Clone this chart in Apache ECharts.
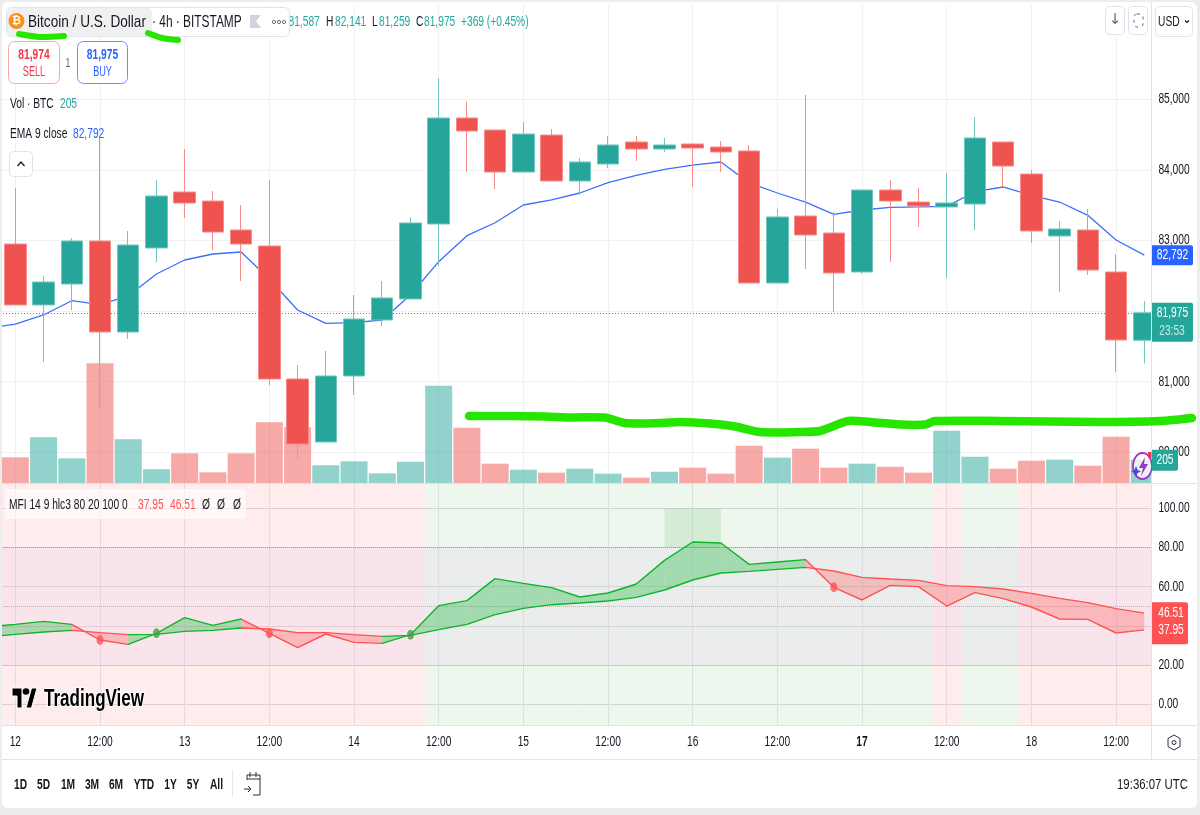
<!DOCTYPE html>
<html>
<head>
<meta charset="utf-8">
<title>BTC/USD 4h</title>
<style>
  html, body { margin: 0; padding: 0; background: #ECEDEF; }
  #panel { position: absolute; left: 2px; top: 2px; width: 1195px; height: 806px; background: #fff; border-radius: 6px; }
  #chart { position: absolute; left: 0; top: 0; width: 1200px; height: 815px; }
</style>
<script src="https://cdn.jsdelivr.net/npm/echarts@6/dist/echarts.min.js"></script>
</head>
<body>
<div id="panel"></div>
<div id="chart"></div>
<script>
// 4h bars, BTC/USD. The first slot is the bar just off the left edge, known only through its indicators.
const opens  = ['-',82950,82087,82384,82993,81704,82894,83687,83559,83149,82922,81038,80146,81081,81874,82172,83234,84735,84565,83970,84494,83843,84084,84395,84296,84367,84324,84268,82398,83347,83106,82554,83715,83545,83475,83517,84395,83942,83064,83149,82554,81587];
const closes = ['-',82087,82412,82993,81704,82936,83630,83531,83120,82950,81038,80118,81081,81888,82186,83248,84735,84551,83970,84508,83843,84112,84353,84296,84353,84310,84254,82398,83333,83078,82540,83715,83559,83489,83531,84452,84055,83135,83163,82582,81591,81975];
const lows   = ['-',82087,81279,82016,80613,81605,82696,83319,82866,82426,80953,79919,80146,80812,81789,82172,82639,83970,83730,83970,83843,83645,84027,84126,84254,83758,83970,82398,82398,82596,81987,82526,82696,83191,82469,83149,83758,82965,82271,82511,81137,81259];
const highs  = ['-',83744,82497,83035,84466,83135,83857,84296,83701,83503,83857,81237,81435,82228,82426,83333,85302,84962,84565,84678,84579,84169,84480,84480,84452,84381,84409,84353,83446,85061,83404,83715,83857,83744,83956,84749,84395,83999,83276,83446,82809,82141];
const volumes = [null,226,402,217,1053,385,121,261,94,261,534,490,156,191,85,187,856,487,170,117,91,126,82,47,99,135,82,328,223,302,135,170,143,91,460,231,126,196,205,152,407,205];
const emaValues = [81756,81817,81945,82147,82091,82214,82526,82724,82809,82837,82455,82016,81827,81836,81874,82228,82700,83068,83252,83503,83574,83673,83819,83924,84009,84069,84112,83815,83673,83545,83371,83432,83470,83475,83484,83691,83758,83640,83545,83357,83007,82792];
const mfiValues = [39.44,40.80,42.33,40.80,32.81,30.60,36.21,44.20,40.29,43.52,36.21,28.90,35.87,31.62,31.11,35.53,50.32,52.88,64.10,61.72,59.51,54.75,56.79,61.38,73.45,82.81,82.30,71.41,72.60,73.79,59.68,53.22,60.70,60.02,50.15,56.96,53.90,49.64,43.52,43.35,36.38,37.95];
const signalValues = [34.34,35.70,36.89,37.74,36.55,35.53,35.70,37.23,37.74,38.93,38.42,36.55,36.55,35.53,34.68,35.19,38.08,40.80,45.73,48.96,50.83,51.68,52.71,54.58,58.32,63.42,66.99,67.84,68.86,69.88,68.01,64.78,63.93,63.25,60.53,60.02,58.83,56.62,54.07,51.85,48.79,46.51];
const barSlots = Array.from({ length: opens.length }, (_, i) => 'bar' + i);
const timeLabels = ['12','12:00','13','12:00','14','12:00','15','12:00','16','12:00','17','12:00','18','12:00'];
const priceTicks = [80000,81000,82000,83000,84000,85000];
const mfiTicks = [0,20,40,60,80,100];
const guideLevels = [80,50,20];
const guideColors = ['#7FA8A4','#B4B4B7','#E6B88A'];
const buyMarks = [6,15];
const sellMarks = [4,10,30];
const zoneStarts = [0,16,34,35,37];
const zoneEnds = [15,33,34,36,41];
const zoneBuy = [false,true,false,true,false];

const SANS = '"Liberation Sans",sans-serif';
const SQUEEZE = 0.73;
const INK = '#131722', TEAL = '#26A69A', RED = '#EF5350', ALERT = '#FF5252', BLUE = '#2962FF', EDGE = '#E0E3EB';
const LINE_UP = '#0DB52B';
const PRICE_MIN = 79565, PRICE_MAX = 86336, OSC_MIN = -10.56, OSC_MAX = 112.4;

const isUp = i => closes[i] >= opens[i];
const segmentBuy = i => mfiValues[i] >= signalValues[i];

const segmentPieces = [];
for (let i = 1; i < mfiValues.length; i++) {
  segmentPieces.push({ gt: i - 1, lte: i, color: segmentBuy(i) ? LINE_UP : ALERT });
}

const gridLine = { show: true, lineStyle: { color: '#F0F1F3', width: 1 } };
const stripLine = { show: true, lineStyle: { color: '#DCDDE0', width: 1 } };
const stripColumn = { show: true, lineStyle: { color: '#E8E9EB', width: 1 } };

function labelOnly(index) { return (index - 1) % 3 === 0; }

const priceLabel = v => v.toLocaleString('en-US');
const oscLabel = v => v.toFixed(2);

// Scales come in pairs: the labelled axis sits above the edge mask, its twin keeps the grid lines under the marks.
function labelledAxis(gridIndex, min, max, ticks, formatter) {
  return { type: 'value', gridIndex, position: 'right', min, max, z: 6,
    axisLine: { show: false }, axisTick: { show: false, customValues: ticks }, splitLine: { show: false },
    axisLabel: { margin: 0, customValues: ticks, color: INK, fontFamily: SANS, fontSize: 14, formatter } };
}
function gridAxis(gridIndex, min, max, ticks, splitLine) {
  return { type: 'value', gridIndex, position: 'right', min, max, z: 0,
    axisLine: { show: false }, axisTick: { show: false, customValues: ticks }, axisLabel: { show: false }, splitLine };
}

const option = {
  animation: false,
  backgroundColor: 'transparent',
  grid: [
    { left: -27, width: 1185.4, top: 5, height: 478, outerBoundsMode: 'none' },
    { left: -27, width: 1185.4, top: 484, height: 241, outerBoundsMode: 'none' }
  ],
  xAxis: [
    { type: 'category', gridIndex: 0, data: barSlots, axisLine: { show: false }, axisTick: { show: false },
      axisLabel: { show: false },
      splitLine: Object.assign({ interval: labelOnly, alignWithLabel: true }, gridLine) },
    { type: 'category', gridIndex: 1, data: barSlots, axisLine: { show: false }, axisTick: { show: false },
      axisLabel: { interval: labelOnly, margin: 10, color: INK, fontFamily: SANS, fontSize: 14, hideOverlap: false,
        formatter: (value, index) => {
          const t = timeLabels[(index - 1) / 3];
          return t === '17' ? '{strong|17}' : (t || '');
        },
        rich: { strong: { fontWeight: 'bold', fontFamily: SANS, fontSize: 14, color: INK } } },
      splitLine: Object.assign({ interval: labelOnly, alignWithLabel: true }, stripColumn) }
  ],
  yAxis: [
    labelledAxis(0, PRICE_MIN, PRICE_MAX, priceTicks, priceLabel),
    { type: 'value', gridIndex: 0, min: 0, max: 4206, show: false, splitLine: { show: false } },
    labelledAxis(1, OSC_MIN, OSC_MAX, mfiTicks, oscLabel),
    gridAxis(0, PRICE_MIN, PRICE_MAX, priceTicks, gridLine),
    gridAxis(1, OSC_MIN, OSC_MAX, mfiTicks, stripLine)
  ],
  visualMap: [{ show: false, type: 'piecewise', seriesIndex: [3, 4], dimension: 0, pieces: segmentPieces }],
  series: [
    { // volume columns along the foot of the price pane
      type: 'bar', name: 'Vol', xAxisIndex: 0, yAxisIndex: 1, z: 2, barWidth: 27, data: volumes,
      itemStyle: { color: p => isUp(p.dataIndex) ? 'rgba(38,166,154,0.5)' : 'rgba(239,83,80,0.5)' }
    },
    { // EMA 9 runs behind the candles
      type: 'line', name: 'EMA 9', xAxisIndex: 0, yAxisIndex: 0, z: 3, data: emaValues,
      showSymbol: false, symbol: 'none', lineStyle: { color: '#3D6FFF', width: 1.3 }
    },
    { type: 'candlestick', name: 'BTC/USD', xAxisIndex: 0, yAxisIndex: 0, z: 4, barWidth: 22,
      data: opens.map((o, i) => [o, closes[i], lows[i], highs[i]]),
      itemStyle: { color: TEAL, color0: RED, borderColor: '#6FC6BE', borderColor0: '#F58C8A', borderWidth: 1 },
      markLine: { silent: true, symbol: 'none', label: { show: false },
        lineStyle: { color: '#3E9C93', type: [1, 2], width: 1 },
        data: [{ yAxis: closes[closes.length - 1] }] }
    },
    { type: 'line', name: 'MFI', xAxisIndex: 1, yAxisIndex: 2, z: 4, data: mfiValues,
      showSymbol: false, symbol: 'none', lineStyle: { width: 1.4 },
      markArea: { silent: true, itemStyle: { color: 'rgba(76,175,80,0.15)' },
        data: [[{ xAxis: 24, yAxis: 100 }, { xAxis: 26, yAxis: 80 }]] } },
    { type: 'line', name: 'Signal', xAxisIndex: 1, yAxisIndex: 2, z: 4, data: signalValues,
      showSymbol: false, symbol: 'none', lineStyle: { width: 1.4 } },
    { // regime backdrop: full height tint plus the 20-80 channel
      type: 'custom', name: 'Regime', xAxisIndex: 1, yAxisIndex: 2, z: 1, silent: true,
      data: zoneStarts.map((s, i) => [s, zoneEnds[i]]),
      encode: { x: [0, 1] },
      renderItem: (params, api) => {
        const band = api.size([1, 0])[0];
        const x0 = api.coord([api.value(0), 0])[0] - band / 2;
        const x1 = api.coord([api.value(1), 0])[0] + band / 2;
        const top = api.coord([0, 80])[1], bottom = api.coord([0, 20])[1];
        const buy = zoneBuy[params.dataIndex];
        return { type: 'group', children: [
          { type: 'rect', shape: { x: x0, y: params.coordSys.y, width: x1 - x0, height: params.coordSys.height },
            style: { fill: buy ? 'rgba(76,175,80,0.1)' : 'rgba(255,82,82,0.1)' } },
          { type: 'rect', shape: { x: x0, y: top, width: x1 - x0, height: bottom - top },
            style: { fill: buy ? 'rgba(229,203,233,0.25)' : 'rgba(231,198,226,0.25)' } }
        ] };
      }
    },
    { // oscillator guide levels, kept on whole pixel rows so the dots stay crisp
      type: 'custom', name: 'Guides', xAxisIndex: 1, yAxisIndex: 2, z: 2, silent: true,
      data: guideLevels.map((level, i) => [i, level]),
      encode: { x: 0, y: 1 },
      renderItem: (params, api) => {
        const y = Math.floor(api.coord([0, api.value(1)])[1]) + 0.5;
        return { type: 'line',
          shape: { x1: params.coordSys.x, y1: y, x2: params.coordSys.x + params.coordSys.width, y2: y },
          style: { stroke: guideColors[params.dataIndex], lineWidth: 1, lineDash: [1, 1] } };
      }
    },
    { // fill between MFI and its signal, one quad per bar
      type: 'custom', name: 'MFI band', xAxisIndex: 1, yAxisIndex: 2, z: 3, silent: true,
      data: mfiValues.slice(1).map((_, i) => [i, i + 1]),
      encode: { x: [0, 1] },
      renderItem: (params, api) => {
        const a = api.value(0), b = api.value(1);
        return { type: 'polygon', shape: { points: [
            api.coord([a, mfiValues[a]]), api.coord([b, mfiValues[b]]),
            api.coord([b, signalValues[b]]), api.coord([a, signalValues[a]]) ] },
          style: { fill: segmentBuy(b) ? 'rgba(0,180,40,0.3)' : 'rgba(255,82,82,0.3)' } };
      }
    },
    { type: 'scatter', name: 'Cross up', xAxisIndex: 1, yAxisIndex: 2, z: 5, symbolSize: [7, 10],
      data: buyMarks.map(i => [i, mfiValues[i]]), itemStyle: { color: '#43A047' } },
    { type: 'scatter', name: 'Cross down', xAxisIndex: 1, yAxisIndex: 2, z: 5, symbolSize: [7, 10],
      data: sellMarks.map(i => [i, mfiValues[i]]), itemStyle: { color: ALERT } }
  ]
};

const chart = echarts.init(document.getElementById('chart'), null, { renderer: 'canvas' });
chart.setOption(option);

function text(x, y, str, fill, size, extra) {
  extra = extra || {};
  return { type: 'text', x, y, z: extra.z || 8, scaleX: extra.squeeze || SQUEEZE,
    style: { text: str, fill: fill || INK, font: extra.font || ((size || 14) + 'px ' + SANS),
      textAlign: extra.align || 'left', textVerticalAlign: 'middle',
      stroke: extra.stroke, lineWidth: extra.lineWidth } };
}
function box(x, y, w, h, fill, stroke, r, z) {
  return { type: 'rect', z: z || 7, shape: { x, y, width: w, height: h, r: r || 0 },
    style: { fill: fill || 'none', stroke: stroke || 'none', lineWidth: 1 } };
}
function line(x1, y1, x2, y2, stroke, z) {
  return { type: 'line', z: z || 5, shape: { x1, y1, x2, y2 }, style: { stroke: stroke || EDGE, lineWidth: 1 } };
}
function stroke(points, color, width, z) {
  return { type: 'polyline', z: z || 8, shape: { points }, style: { stroke: color, lineWidth: width || 1, fill: 'none' } };
}
function shape(points, fill, z, outline) {
  return { type: 'polygon', z: z || 8, shape: { points }, style: { fill, stroke: outline, lineWidth: outline ? 1 : 0 } };
}
function ink(points, width) {
  return { type: 'polyline', z: 9, shape: { points, smooth: 0.25 },
    style: { stroke: '#26E600', lineWidth: width, lineCap: 'round', lineJoin: 'round', fill: 'none' } };
}

const priceY = v => chart.convertToPixel({ yAxisIndex: 0 }, v);
const oscY = v => chart.convertToPixel({ yAxisIndex: 2 }, v);
const lastClose = closes[closes.length - 1];
const lastEma = emaValues[emaValues.length - 1];
const lastMfi = mfiValues[mfiValues.length - 1];
const lastSignal = signalValues[signalValues.length - 1];
const lastVol = volumes[volumes.length - 1];
const volY = chart.convertToPixel({ yAxisIndex: 1 }, lastVol);
const fmt = v => v.toLocaleString('en-US');
const closeY = priceY(lastClose), emaY = priceY(lastEma);
const mfiTop = oscY(lastSignal), mfiBottom = oscY(lastMfi);
const centred = { align: 'center', z: 9 };
const hollowIcon = { fill: 'none', stroke: '#6A6D78', lineWidth: 1 };

const chrome = [
  // edges of the panes
  { type: 'rect', z: 5, shape: { x: 0, y: 0, width: 2, height: 815 }, style: { fill: '#ECEDEF' } },
  { type: 'rect', z: 5, shape: { x: 1152, y: 2, width: 8, height: 757 }, style: { fill: '#fff' } },
  line(2, 483.5, 1152, 483.5), line(2, 725.5, 1197, 725.5), line(2, 759.5, 1197, 759.5),
  line(1151.5, 2, 1151.5, 759), line(1151.5, 483.5, 1197, 483.5),

  // symbol header; the open value tucks under the pill
  text(288.5, 22, '81,587', TEAL, 14, { z: 6 }),
  box(6.5, 7.5, 283, 29, '#fff', EDGE, 5),
  box(7, 8, 145, 28, '#F0F0F0', null, 5),
  { type: 'circle', z: 8, shape: { cx: 16.5, cy: 21, r: 8 }, style: { fill: '#F7931A' } },
  text(16.5, 21, '₿', '#fff', 11, { squeeze: 1, align: 'center', font: 'bold 11px "DejaVu Sans",sans-serif' }),
  text(28, 22, 'Bitcoin / U.S. Dollar', INK, 17, { squeeze: 0.8 }),
  text(152, 22, '· 4h · BITSTAMP', INK, 17, { squeeze: 0.7 }),
  shape([[250, 15], [261, 15], [256, 21], [261, 28], [250, 28]], '#D1D4DC'),
  { type: 'circle', z: 8, shape: { cx: 274, cy: 22, r: 1.6 }, style: hollowIcon },
  { type: 'circle', z: 8, shape: { cx: 279, cy: 22, r: 1.6 }, style: hollowIcon },
  { type: 'circle', z: 8, shape: { cx: 284, cy: 22, r: 1.6 }, style: hollowIcon },
  text(326, 22, 'H', INK), text(335, 22, '82,141', TEAL),
  text(372, 22, 'L', INK), text(379, 22, '81,259', TEAL),
  text(416, 22, 'C', INK), text(424, 22, '81,975', TEAL),
  text(461, 22, '+369 (+0.45%)', TEAL),

  // order buttons
  box(8.5, 41.5, 51, 42, '#fff', '#F7A8AE', 6),
  text(34, 55, '81,974', '#F23645', 14, { align: 'center', font: 'bold 14px ' + SANS }),
  text(34, 72, 'SELL', '#F23645', 14, { align: 'center', squeeze: 0.65 }),
  text(68, 63, '1', '#6A6D78', 13, { align: 'center' }),
  box(77.5, 41.5, 50, 42, '#fff', '#6C8FF5', 6),
  text(102.5, 55, '81,975', BLUE, 14, { align: 'center', font: 'bold 14px ' + SANS }),
  text(102.5, 72, 'BUY', BLUE, 14, { align: 'center', squeeze: 0.65 }),

  // indicator legends
  text(10, 104, 'Vol · BTC', INK), text(60, 104, fmt(lastVol), TEAL),
  text(10, 134, 'EMA 9 close', INK), text(73, 134, fmt(lastEma), BLUE),
  box(9.5, 151.5, 23, 25, '#fff', EDGE, 4),
  stroke([[17.5, 166], [21, 162], [24.5, 166]], INK, 1.3),

  box(5, 489, 241, 30, 'rgba(255,255,255,0.6)', null, 2),
  text(9, 505, 'MFI 14 9 hlc3 80 20 100 0', INK),
  text(138, 505, lastMfi.toFixed(2), ALERT), text(170, 505, lastSignal.toFixed(2), ALERT),
  text(202, 505, 'Ø', INK), text(217, 505, 'Ø', INK), text(233, 505, 'Ø', INK),

  // watermark
  shape([[12, 688], [22, 688], [22, 708], [17, 708], [17, 696], [12, 696]], '#000', 8, '#fff'),
  shape([[26, 708], [31.5, 688], [37, 688], [31.5, 708]], '#000', 8, '#fff'),
  { type: 'circle', z: 8, shape: { cx: 26, cy: 691.5, r: 3.3 }, style: { fill: '#000' } },
  text(44, 699, 'TradingView', '#000', 24, { squeeze: 0.71, font: 'bold 24px ' + SANS, stroke: '#fff', lineWidth: 2 }),

  // corner controls
  box(1105.5, 6.5, 19, 28, '#fff', EDGE, 4),
  text(1115, 20, '↓', '#6A6D78', 15, { squeeze: 1, align: 'center', font: '15px "DejaVu Sans",sans-serif' }),
  box(1128.5, 6.5, 19, 28, '#fff', EDGE, 4),
  { type: 'rect', z: 8, shape: { x: 1134, y: 14, width: 9, height: 13, r: 3 }, style: { fill: 'none', stroke: '#6A6D78', lineWidth: 1, lineDash: [3, 4] } },
  box(1155.5, 6.5, 37, 30, '#fff', EDGE, 4),
  text(1158, 22, 'USD', INK),
  stroke([[1185, 20.5], [1187, 22.5], [1189, 20.5]], INK, 1.2),

  // last-value tags on the scales
  box(1152, emaY - 10, 41, 20, BLUE, null, [0, 2, 2, 0], 8),
  text(1172.5, emaY, fmt(lastEma), '#fff', 14, centred),
  box(1152, closeY - 10, 41, 39, TEAL, null, [0, 2, 2, 0], 8),
  text(1172.5, closeY, fmt(lastClose), '#fff', 14, centred),
  text(1172, closeY + 18, '23:53', '#C4E9E5', 14, centred),
  box(1152, volY - 10, 26, 21, TEAL, null, [0, 2, 2, 0], 8),
  text(1165, volY + 0.5, fmt(lastVol), '#fff', 14, centred),
  box(1152, mfiTop - 11, 36, 42, ALERT, null, [0, 2, 2, 0], 8),
  text(1171, mfiTop, lastSignal.toFixed(2), '#fff', 14, centred),
  text(1171, mfiBottom, lastMfi.toFixed(2), '#fff', 14, centred),

  // assistant badge on the last volume column
  { type: 'circle', z: 6, x: 1142.5, y: 466, scaleY: 1.37, shape: { cx: 0, cy: 0, r: 9.5 }, style: { fill: 'rgba(255,255,255,0.75)', stroke: '#A232C8', lineWidth: 1.6 } },
  shape([[1145, 457], [1139, 468], [1143, 468], [1141, 476], [1148, 464], [1144, 464]], '#A232C8', 7),
  shape([[1136, 466], [1137.5, 470], [1141, 471.5], [1137.5, 473], [1136, 477], [1134.5, 473], [1131, 471.5], [1134.5, 470]], '#5B3FD6', 7),
  { type: 'rect', z: 7, shape: { x: 1148, y: 452, width: 3.5, height: 6 }, style: { fill: '#F23645' } },

  // range bar and clock
  ...[['1D', 20.5], ['5D', 43.5], ['1M', 68], ['3M', 92], ['6M', 116], ['YTD', 144], ['1Y', 170.5], ['5Y', 193], ['All', 216.5]]
    .map(([t, x]) => text(x, 785, t, INK, 14, { align: 'center', font: '600 14px ' + SANS })),
  line(232.5, 770, 232.5, 797, '#E4E5E8'),
  stroke([[247, 780], [247, 775], [260, 775], [260, 795], [253, 795]], '#2A2E39'),
  stroke([[247, 779], [260, 779]], '#2A2E39'),
  stroke([[250, 772], [250, 777]], '#2A2E39'), stroke([[256, 772], [256, 777]], '#2A2E39'),
  stroke([[244, 789], [251, 789]], '#2A2E39'), stroke([[248, 786], [251, 789], [248, 792]], '#2A2E39'),
  text(1188, 785, '19:36:07 UTC', INK, 15, { align: 'right', squeeze: 0.76 }),
  shape([[1174, 735], [1180, 738.5], [1180, 746.5], [1174, 750], [1168, 746.5], [1168, 738.5]], 'none', 8, '#2A2E39'),
  { type: 'circle', z: 8, shape: { cx: 1174, cy: 742.5, r: 2 }, style: { fill: 'none', stroke: '#2A2E39', lineWidth: 1 } },

  // pen strokes over the chart
  ink([[19, 34], [40, 37], [64, 36]], 6),
  ink([[148, 33], [162, 38], [178, 40]], 6),
  ink([[469, 416], [510, 416], [545, 416.5], [570, 417.5], [605, 417.5], [625, 423], [660, 423], [680, 422], [710, 423.5], [735, 426.5], [760, 432], [800, 432], [820, 431], [848, 421], [870, 422], [900, 424.5], [925, 424.5], [935, 421], [1000, 421], [1100, 422], [1160, 421], [1192, 418]], 8.5)
];

chart.setOption({ graphic: { elements: chrome } });

// Tighten the axis tick labels to the same set width as the rest of the text.
const axisTexts = new Set([...priceTicks.map(priceLabel), ...mfiTicks.map(oscLabel), ...timeLabels, '{strong|17}']);
chart.getZr().storage.getRoots().forEach(root => {
  const visit = el => {
    if (el.type === 'text' && el.style && axisTexts.has(el.style.text) && el.scaleX === 1) {
      el.scaleX = SQUEEZE;
      el.markRedraw();
    }
    if (el.isGroup) el.eachChild(visit);
  };
  visit(root);
});
</script>
</body>
</html>
